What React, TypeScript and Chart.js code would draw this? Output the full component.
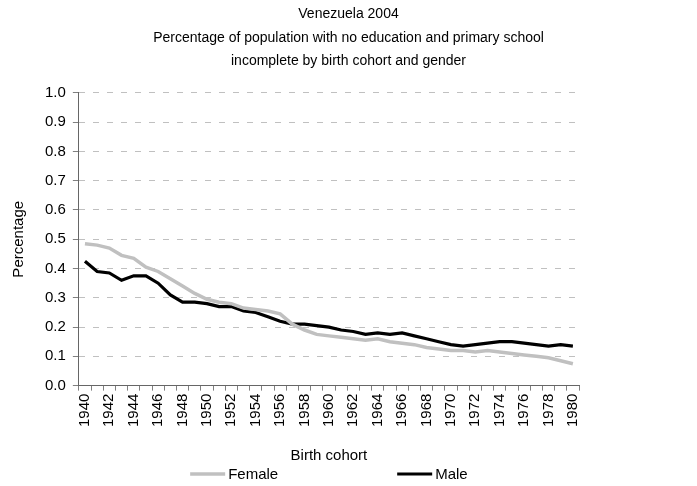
import React, { useEffect, useRef } from 'react';
import { Chart, registerables } from 'chart.js';

Chart.register(...registerables);

const years = [
  '1940', '1941', '1942', '1943', '1944', '1945', '1946', '1947', '1948', '1949',
  '1950', '1951', '1952', '1953', '1954', '1955', '1956', '1957', '1958', '1959',
  '1960', '1961', '1962', '1963', '1964', '1965', '1966', '1967', '1968', '1969',
  '1970', '1971', '1972', '1973', '1974', '1975', '1976', '1977', '1978', '1979', '1980',
];

const female = [
  0.485, 0.48, 0.47, 0.445, 0.435, 0.405, 0.39, 0.365, 0.34, 0.315,
  0.295, 0.285, 0.28, 0.265, 0.26, 0.255, 0.245, 0.21, 0.19, 0.175,
  0.17, 0.165, 0.16, 0.155, 0.16, 0.15, 0.145, 0.14, 0.13, 0.125,
  0.12, 0.12, 0.115, 0.12, 0.115, 0.11, 0.105, 0.1, 0.095, 0.085, 0.075,
];

const male = [
  0.425, 0.39, 0.385, 0.36, 0.375, 0.375, 0.35, 0.31, 0.285, 0.285,
  0.28, 0.27, 0.27, 0.255, 0.25, 0.235, 0.22, 0.21, 0.21, 0.205,
  0.2, 0.19, 0.185, 0.175, 0.18, 0.175, 0.18, 0.17, 0.16, 0.15,
  0.14, 0.135, 0.14, 0.145, 0.15, 0.15, 0.145, 0.14, 0.135, 0.14, 0.135,
];

const titleLines = [
  'Venezuela 2004',
  'Percentage of population with no education and primary school',
  'incomplete by birth cohort and gender',
];

const seriesLabels = ['Female', 'Male'];
const xTitle = 'Birth cohort';
const yTitle = 'Percentage';

const FONT = '"Liberation Sans", Arial, sans-serif';

export default function App() {
  const ref = useRef<HTMLCanvasElement>(null);

  useEffect(() => {
    document.body.style.margin = '0';
    if (!ref.current) return;

    const legendPlugin = {
      id: 'customLegend',
      afterDraw(chart: any) {
        const ctx = chart.ctx;
        const ca = chart.chartArea;
        ctx.save();
        ctx.font = '15px ' + FONT;
        const lineLen = 35;
        const textGap = 3;
        const itemGap = 119;
        const items = chart.data.datasets.map((ds: any) => ({
          label: ds.label,
          color: ds.borderColor,
          lw: ds.borderWidth,
          w: lineLen + textGap + ctx.measureText(ds.label).width,
        }));
        const total = items.reduce((s: number, it: any) => s + it.w, 0) + itemGap * (items.length - 1);
        let x = (ca.left + ca.right) / 2 - total / 2;
        const y = chart.height - 12;
        items.forEach((it: any) => {
          ctx.strokeStyle = it.color;
          ctx.lineWidth = it.lw;
          ctx.beginPath();
          ctx.moveTo(x, y);
          ctx.lineTo(x + lineLen, y);
          ctx.stroke();
          ctx.fillStyle = '#000';
          ctx.textBaseline = 'middle';
          ctx.textAlign = 'left';
          ctx.fillText(it.label, x + lineLen + textGap, y + 1);
          x += it.w + itemGap;
        });
        ctx.restore();
      },
    };

    const chart = new Chart(ref.current, {
      type: 'line',
      data: {
        labels: years,
        datasets: [
          {
            label: seriesLabels[0],
            data: female,
            borderColor: '#c0c0c0',
            backgroundColor: '#c0c0c0',
            borderWidth: 3.5,
            pointRadius: 0,
            tension: 0,
          },
          {
            label: seriesLabels[1],
            data: male,
            borderColor: '#000000',
            backgroundColor: '#000000',
            borderWidth: 3.2,
            pointRadius: 0,
            tension: 0,
          },
        ],
      },
      options: {
        animation: false,
        responsive: true,
        maintainAspectRatio: false,
        font: { family: FONT },
        layout: { padding: { top: 0, left: 0, right: 0, bottom: 19 } },
        plugins: {
          legend: { display: false },
          tooltip: { enabled: false },
          title: {
            display: true,
            text: titleLines,
            color: '#000',
            font: { family: FONT, size: 14, weight: 'normal', lineHeight: 1.7 },
            padding: { top: 2, bottom: 19.5 },
          },
        },
        scales: {
          x: {
            type: 'category',
            offset: true,
            grid: {
              display: true,
              offset: true,
              drawOnChartArea: false,
              drawTicks: true,
              tickLength: 5,
              tickColor: '#808080',
            },
            border: { display: true, color: '#666', width: 1 },
            ticks: {
              autoSkip: false,
              minRotation: 90,
              maxRotation: 90,
              padding: 3,
              color: '#000',
              font: { family: FONT, size: 15 },
              callback: (_v: any, i: number) => (i % 2 === 0 ? years[i] : ''),
            },
            title: {
              display: true,
              text: xTitle,
              color: '#000',
              font: { family: FONT, size: 15 },
              padding: { top: 17, bottom: 2 },
            },
          },
          y: {
            type: 'linear',
            min: 0,
            max: 1,
            grid: {
              color: '#c0c0c0',
              tickColor: '#808080',
              tickLength: 6,
              drawTicks: true,
            },
            border: { display: true, color: '#666', width: 1, dash: [6, 8] },
            ticks: {
              stepSize: 0.1,
              padding: 7,
              color: '#000',
              font: { family: FONT, size: 15 },
              callback: (v: any) => Number(v).toFixed(1),
            },
            title: {
              display: true,
              text: yTitle,
              color: '#000',
              font: { family: FONT, size: 15 },
              padding: { top: 10, bottom: 10 },
            },
          },
          y2: {
            type: 'linear',
            position: 'right',
            display: true,
            grid: { display: false, drawTicks: false },
            border: { display: false },
            ticks: { display: false },
            afterFit: (scale: any) => {
              scale.width = 118;
            },
          },
        },
      },
      plugins: [legendPlugin],
    } as any);

    return () => chart.destroy();
  }, []);

  return (
    <div style={{ position: 'absolute', left: 0, top: 0, width: 697, height: 486 }}>
      <canvas ref={ref} />
    </div>
  );
}
